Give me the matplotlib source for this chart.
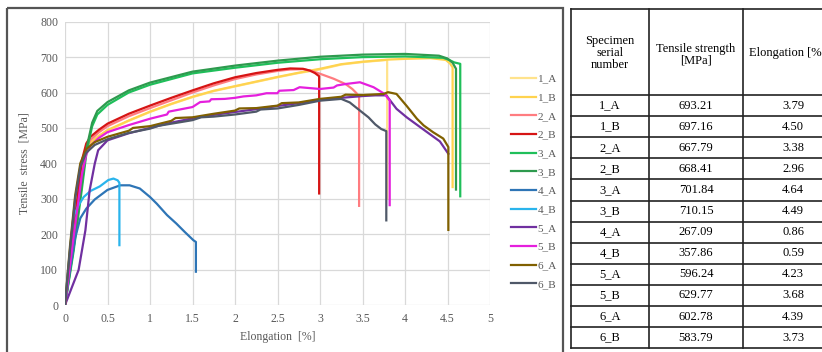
import matplotlib.pyplot as plt
from matplotlib.patches import Rectangle

plt.rcParams['font.family'] = ['Liberation Serif', 'DejaVu Serif']

# curve data: elongation [%] / tensile stress [MPa]
x_1a = [0, 0.1, 0.2, 0.25, 0.3, 0.4, 0.5, 0.75, 1.0, 1.25, 1.5, 1.75, 2.0, 2.25, 2.5, 2.75, 3.0, 3.25, 3.5, 3.79, 3.79]
y_1a = [0, 185, 370, 432, 456, 476, 492, 520, 545, 567, 587, 604, 617, 630, 643, 655, 665, 679, 686, 692, 300]
x_1b = [0, 0.1, 0.2, 0.25, 0.3, 0.4, 0.5, 0.75, 1.0, 1.25, 1.5, 1.75, 2.0, 2.25, 2.5, 2.75, 3.0, 3.25, 3.5, 3.8, 4.0, 4.3, 4.48, 4.53, 4.56, 4.56]
y_1b = [0, 190, 375, 436, 459, 478, 494, 521, 546, 568, 588, 605, 618, 631, 644, 656, 667, 680, 687, 693, 695, 697, 692, 682, 671, 333]
x_2a = [0, 0.1, 0.2, 0.25, 0.3, 0.4, 0.5, 0.75, 1.0, 1.25, 1.5, 1.75, 2.0, 2.25, 2.5, 2.65, 2.8, 2.9, 3.0, 3.16, 3.3, 3.38, 3.43, 3.46, 3.46]
y_2a = [0, 200, 395, 445, 466, 488, 505, 533, 556, 578, 600, 620, 638, 651, 661, 665, 666, 661, 653, 639, 624, 610, 598, 587, 280]
x_2b = [0, 0.1, 0.2, 0.25, 0.3, 0.4, 0.5, 0.75, 1.0, 1.25, 1.5, 1.75, 2.0, 2.25, 2.5, 2.65, 2.8, 2.88, 2.94, 2.99, 2.99]
y_2b = [0, 210, 410, 456, 475, 495, 512, 540, 563, 585, 606, 626, 643, 655, 664, 668, 667, 662, 655, 646, 315]
x_3a = [0, 0.1, 0.2, 0.25, 0.28, 0.32, 0.38, 0.5, 0.75, 1.0, 1.5, 2.0, 2.5, 3.0, 3.5, 4.0, 4.45, 4.52, 4.58, 4.65, 4.65]
y_3a = [0, 150, 330, 425, 462, 505, 538, 565, 600, 622, 654, 670, 684, 694, 700, 702, 698, 692, 685, 681, 307]
x_3b = [0, 0.1, 0.2, 0.25, 0.28, 0.32, 0.38, 0.5, 0.75, 1.0, 1.5, 2.0, 2.5, 3.0, 3.5, 4.0, 4.4, 4.5, 4.56, 4.6, 4.6]
y_3b = [0, 160, 345, 438, 472, 515, 548, 573, 606, 628, 659, 676, 690, 701, 707, 709, 704, 696, 684, 667, 326]
x_4a = [0, 0.06, 0.12, 0.18, 0.25, 0.35, 0.5, 0.65, 0.76, 0.88, 1.0, 1.08, 1.2, 1.31, 1.41, 1.51, 1.54, 1.54]
y_4a = [0, 100, 190, 245, 272, 298, 325, 338, 338, 329, 305, 286, 254, 230, 206, 183, 178, 94]
x_4b = [0, 0.05, 0.1, 0.16, 0.22, 0.3, 0.41, 0.51, 0.57, 0.62, 0.64, 0.64]
y_4b = [0, 130, 250, 282, 305, 322, 335, 353, 357, 352, 345, 169]
x_5a = [0, 0.16, 0.24, 0.29, 0.35, 0.39, 0.5, 0.75, 1.0, 1.25, 1.5, 1.75, 2.0, 2.25, 2.5, 2.75, 3.0, 3.25, 3.5, 3.65, 3.78, 3.9, 4.02, 4.22, 4.41, 4.51]
y_5a = [0, 99, 211, 324, 399, 437, 465, 485, 500, 515, 527, 537, 545, 553, 562, 570, 579, 585, 590, 592, 592, 554, 530, 495, 462, 427]
x_5b = [0, 0.1, 0.2, 0.25, 0.3, 0.4, 0.5, 0.75, 1.0, 1.2, 1.22, 1.5, 1.59, 1.7, 1.72, 1.88, 2.0, 2.1, 2.25, 2.37, 2.5, 2.52, 2.69, 2.76, 3.0, 3.16, 3.2, 3.3, 3.47, 3.55, 3.63, 3.76, 3.82, 3.82]
y_5b = [0, 190, 370, 425, 450, 472, 488, 508, 526, 538, 546, 559, 573, 575, 581, 582, 585, 589, 592, 598, 598, 605, 607, 615, 610, 614, 620, 624, 629, 622, 615, 596, 577, 282]
x_6a = [0, 0.06, 0.12, 0.18, 0.25, 0.35, 0.5, 0.75, 0.8, 1.0, 1.25, 1.3, 1.5, 1.75, 2.0, 2.05, 2.25, 2.5, 2.55, 2.75, 3.0, 3.25, 3.3, 3.5, 3.75, 3.8, 3.9, 4.02, 4.14, 4.22, 4.33, 4.45, 4.51, 4.51]
y_6a = [0, 170, 310, 400, 440, 460, 475, 492, 500, 505, 520, 528, 530, 540, 549, 555, 556, 563, 570, 572, 582, 588, 594, 593, 596, 601, 596, 562, 526, 507, 488, 470, 446, 212]
x_6b = [0, 0.06, 0.12, 0.18, 0.25, 0.35, 0.5, 0.75, 1.0, 1.1, 1.25, 1.5, 1.6, 1.75, 2.0, 2.25, 2.3, 2.5, 2.75, 3.0, 3.25, 3.35, 3.47, 3.57, 3.65, 3.72, 3.78, 3.78]
y_6b = [0, 160, 300, 390, 430, 452, 468, 486, 498, 506, 512, 522, 530, 532, 538, 546, 552, 555, 565, 577, 582, 572, 549, 530, 510, 497, 491, 239]

labels = ['1_A', '1_B', '2_A', '2_B', '3_A', '3_B', '4_A', '4_B', '5_A', '5_B', '6_A', '6_B']
colors = ['#FFE38C', '#FFD34F', '#FF7C80', '#D61414', '#1FBF5A', '#2E9A4E',
          '#2E75B6', '#2AB4EC', '#7030A0', '#E51FDD', '#806000', '#4F5868']
curves = [(x_1a, y_1a), (x_1b, y_1b), (x_2a, y_2a), (x_2b, y_2b), (x_3a, y_3a), (x_3b, y_3b),
          (x_4a, y_4a), (x_4b, y_4b), (x_5a, y_5a), (x_5b, y_5b), (x_6a, y_6a), (x_6b, y_6b)]

# table data
specimens = labels
strength = ['693.21', '697.16', '667.79', '668.41', '701.84', '710.15',
            '267.09', '357.86', '596.24', '629.77', '602.78', '583.79']
elongation = ['3.79', '4.50', '3.38', '2.96', '4.64', '4.49',
              '0.86', '0.59', '4.23', '3.68', '4.39', '3.73']

W, H = 822, 352
fig = plt.figure(figsize=(W / 100, H / 100), dpi=100)

# overlay in pixel units for chart frame and table
ov = fig.add_axes([0, 0, 1, 1])
ov.set_xlim(0, W)
ov.set_ylim(H, 0)
ov.axis('off')
ov.add_patch(Rectangle((7, 8), 556, 360, fill=False, ec='#555555', lw=1.6))

col_x = [571, 649, 743, 843]
head_top, head_bot, row_h = 9, 95, 21.1
n = len(specimens)
bottom = head_bot + n * row_h
for cx in col_x[:3]:
    ov.plot([cx, cx], [head_top, bottom], color='#222222', lw=1.2)
ov.plot([col_x[0], W], [head_top, head_top], color='#222222', lw=1.2)
ov.plot([col_x[0], W], [head_bot, head_bot], color='#222222', lw=1.2)
for i in range(n):
    yl = head_bot + (i + 1) * row_h
    ov.plot([col_x[0], W], [yl, yl], color='#222222', lw=1.2)

cc = [(col_x[j] + col_x[j + 1]) / 2 for j in range(3)]
hy = (head_top + head_bot) / 2
ov.text(cc[0], hy + 1, 'Specimen\nserial\nnumber', ha='center', va='center', fontsize=9, linespacing=0.95)
ov.text(cc[1], hy + 3, 'Tensile strength\n[MPa]', ha='center', va='center', fontsize=9, linespacing=0.95)
ov.text(cc[2] - 6, hy + 1, 'Elongation [%]', ha='center', va='center', fontsize=9)
for i in range(n):
    ry = head_bot + (i + 0.5) * row_h
    ov.text(cc[0], ry, specimens[i], ha='center', va='center', fontsize=9)
    ov.text(cc[1], ry, strength[i], ha='center', va='center', fontsize=9)
    ov.text(cc[2], ry, elongation[i], ha='center', va='center', fontsize=9)

# chart
ax = fig.add_axes([65 / W, 1 - 305 / H, 425 / W, (305 - 21.7) / H])
for (xs, ys), lab, c in zip(curves, labels, colors):
    ax.plot(xs, ys, color=c, lw=1.6, label=lab, solid_joinstyle='round')

ax.set_xlim(0, 5)
ax.set_ylim(0, 800)
ax.set_xticks([0, 0.5, 1, 1.5, 2, 2.5, 3, 3.5, 4, 4.5, 5])
ax.set_xticklabels(['0', '0.5', '1', '1.5', '2', '2.5', '3', '3.5', '4', '4.5', '5'])
ax.set_yticks(range(0, 801, 100))
ax.grid(True, color='#D9D9D9', lw=0.9)
ax.set_axisbelow(True)
for s in ax.spines.values():
    s.set_visible(False)
ax.tick_params(length=0, labelsize=8.5, labelcolor='#595959')
ax.tick_params(axis='x', pad=6)
ax.tick_params(axis='y', pad=5)
ax.set_xlabel('Elongation  [%]', fontsize=8.5, color='#595959', labelpad=4)
ax.set_ylabel('Tensile  stress  [MPa]', fontsize=8.5, color='#595959', labelpad=7)

fig.legend(loc='center left', bbox_to_anchor=(505 / W, 1 - 181.5 / H), frameon=False,
           fontsize=8, handlelength=2.3, handletextpad=0.15, labelspacing=0.8,
           borderpad=0, labelcolor='#595959')

fig.savefig('out.png', dpi=100)
